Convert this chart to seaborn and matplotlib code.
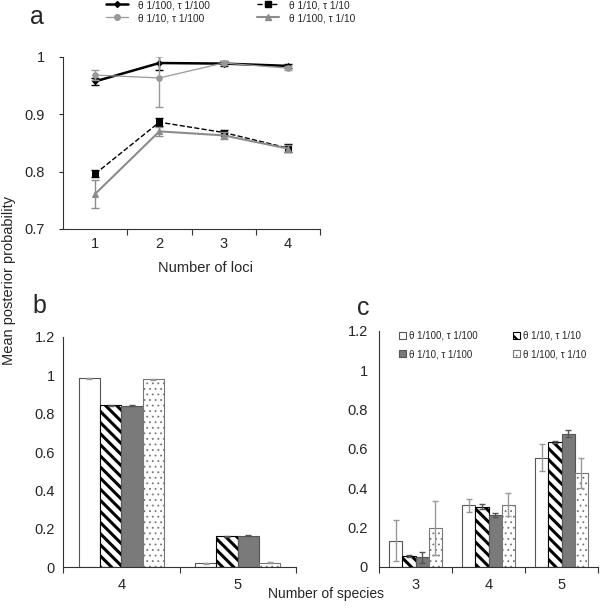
import numpy as np
import pandas as pd
import matplotlib
matplotlib.use("Agg")
import matplotlib.pyplot as plt
import seaborn as sns
from matplotlib.lines import Line2D
from matplotlib.patches import Patch

# ---------------- data ----------------
loci = [1, 2, 3, 4]
scen_labels = ["θ 1/100, τ 1/100", "θ 1/10, τ 1/10", "θ 1/10, τ 1/100", "θ 1/100, τ 1/10"]

a_t100_t100 = [0.957, 0.989, 0.988, 0.984]
a_t100_t100_err = [0.006, 0.012, 0.004, 0.004]
a_t10_t10 = [0.796, 0.886, 0.868, 0.841]
a_t10_t10_err = [0.006, 0.007, 0.004, 0.007]
a_t10_t100 = [0.968, 0.963, 0.989, 0.980]
a_t10_t100_err = [0.008, 0.050, 0.004, 0.004]
a_t100_t10 = [0.761, 0.870, 0.863, 0.840]
a_t100_t10_err = [0.025, 0.008, 0.006, 0.006]

b_species = ["4", "5"]
b_vals = {
    "θ 1/100, τ 1/100": [0.983, 0.021],
    "θ 1/10, τ 1/10": [0.843, 0.161],
    "θ 1/10, τ 1/100": [0.841, 0.165],
    "θ 1/100, τ 1/10": [0.979, 0.023],
}
b_errs = {
    "θ 1/100, τ 1/100": [0.002, 0.002],
    "θ 1/10, τ 1/10": [0.002, 0.002],
    "θ 1/10, τ 1/100": [0.002, 0.002],
    "θ 1/100, τ 1/10": [0.002, 0.002],
}

c_species = ["3", "4", "5"]
c_vals = {
    "θ 1/100, τ 1/100": [0.132, 0.312, 0.555],
    "θ 1/10, τ 1/10": [0.055, 0.305, 0.634],
    "θ 1/10, τ 1/100": [0.047, 0.263, 0.676],
    "θ 1/100, τ 1/10": [0.198, 0.316, 0.476],
}
c_errs = {
    "θ 1/100, τ 1/100": [0.105, 0.034, 0.070],
    "θ 1/10, τ 1/10": [0.007, 0.013, 0.007],
    "θ 1/10, τ 1/100": [0.028, 0.009, 0.019],
    "θ 1/100, τ 1/10": [0.137, 0.057, 0.078],
}

# ---------------- style ----------------
sns.set_theme(style="ticks")
plt.rcParams["font.family"] = ["Liberation Sans", "DejaVu Sans"]
plt.rcParams["hatch.linewidth"] = 0.8
plt.rcParams["axes.linewidth"] = 0.8
plt.rcParams["axes.edgecolor"] = "#333333"

fig = plt.figure(figsize=(6.0, 6.1), dpi=100)
W, H = 600.0, 610.0

def ax_rect(x0, x1, ytop, ybot):
    return [x0 / W, 1 - ybot / H, (x1 - x0) / W, (ybot - ytop) / H]

def set_hlw(p, lw):
    if hasattr(p, "set_hatch_linewidth"):
        p.set_hatch_linewidth(lw)
    else:
        p._hatch_linewidth = lw

# ---------------- panel a ----------------
axa = fig.add_axes(ax_rect(63, 320, 56.7, 229))
series_a = [
    (a_t100_t100, a_t100_t100_err, scen_labels[0], "black", "-", "D", 1.8, 3.0),
    (a_t10_t100, a_t10_t100_err, scen_labels[2], "#999999", "-", "o", 0.9, 4.0),
    (a_t10_t10, a_t10_t10_err, scen_labels[1], "black", "--", "s", 1.0, 4.0),
    (a_t100_t10, a_t100_t10_err, scen_labels[3], "#8c8c8c", "-", "^", 1.5, 4.0),
]
handles_a = []
for vals, errs, lab, col, ls, mk, lw, ms in series_a:
    df = pd.DataFrame({"loci": loci, "pp": vals})
    sns.lineplot(data=df, x="loci", y="pp", ax=axa, color=col, linestyle=ls,
                 marker=mk, markersize=ms, markeredgecolor=col, linewidth=lw,
                 errorbar=None, legend=False)
    axa.errorbar(loci, vals, yerr=errs, fmt="none", ecolor=col, elinewidth=1.0,
                 capsize=3, capthick=1.0)
    handles_a.append(Line2D([0], [0], color=col, linestyle=ls, marker=mk,
                            markersize=ms, linewidth=lw, label=lab))
axa.set_xlim(0.5, 4.5)
axa.set_ylim(0.7, 1.0)
axa.set_yticks([0.7, 0.8, 0.9, 1.0])
axa.set_yticklabels(["0.7", "0.8", "0.9", "1"])
axa.set_xticks(loci)
axa.set_xticks([1.5, 2.5, 3.5, 4.5], minor=True)
axa.tick_params(axis="x", which="major", length=0, labelsize=10.5, pad=6)
axa.tick_params(axis="x", which="minor", length=4, width=0.8, direction="out", color="#333333")
axa.tick_params(axis="y", length=3, width=0.8, labelsize=10.5, pad=10)
axa.set_xlabel("")
axa.set_ylabel("")
sns.despine(ax=axa)
fig.text(206 / W, 1 - 268 / H, "Number of loci", fontsize=10.5, ha="center", va="center")
fig.legend(handles=[handles_a[0], handles_a[1], handles_a[2], handles_a[3]],
           loc="upper left", bbox_to_anchor=(106 / W, 1 - 0 / H), ncol=2,
           frameon=False, fontsize=7.3, handlelength=2.2, handletextpad=1.0,
           columnspacing=4.6, labelspacing=0.3, borderaxespad=0, borderpad=0)

fig.text(37 / W, 1 - 17 / H, "a", fontsize=18, ha="center", va="center")

# ---------------- bar helpers ----------------
face = {scen_labels[0]: "white", scen_labels[1]: "white",
        scen_labels[2]: "#7a7a7a", scen_labels[3]: "white"}
hatch = {scen_labels[0]: None, scen_labels[1]: "\\\\\\", scen_labels[2]: None,
         scen_labels[3]: "..."}
hatch_lw = {scen_labels[1]: 2.2, scen_labels[3]: 0.6}
edge = {scen_labels[0]: "#555555", scen_labels[1]: "black",
        scen_labels[2]: "#555555", scen_labels[3]: "#777777"}
ecol = {scen_labels[0]: "#999999", scen_labels[1]: "#555555",
        scen_labels[2]: "#555555", scen_labels[3]: "#999999"}

def bar_panel(ax, species, vals, errs, ypad):
    rows = []
    for s in scen_labels:
        for sp, v in zip(species, vals[s]):
            rows.append({"species": sp, "scenario": s, "pp": v})
    df = pd.DataFrame(rows)
    sns.barplot(data=df, x="species", y="pp", hue="scenario", hue_order=scen_labels,
                order=species, ax=ax, width=0.73, errorbar=None, legend=False,
                saturation=1, gap=0)
    n = len(species)
    for i, s in enumerate(scen_labels):
        bars = ax.patches[i * n:(i + 1) * n]
        xs = []
        for p in bars:
            p.set_facecolor(face[s])
            p.set_edgecolor(edge[s])
            p.set_linewidth(0.8)
            if hatch[s]:
                p.set_hatch(hatch[s])
                set_hlw(p, hatch_lw[s])
            xs.append(p.get_x() + p.get_width() / 2)
        ax.errorbar(xs, vals[s], yerr=errs[s], fmt="none", ecolor=ecol[s],
                    elinewidth=1.0, capsize=2.5, capthick=1.0, zorder=5)
    ax.set_xlim(-0.5, n - 0.5)
    ax.set_ylim(0, 1.2)
    ax.set_yticks([0, 0.2, 0.4, 0.6, 0.8, 1.0, 1.2])
    ax.set_yticklabels(["0", "0.2", "0.4", "0.6", "0.8", "1", "1.2"])
    ax.set_xticks(range(n))
    ax.set_xticklabels(species)
    ax.set_xticks([k + 0.5 for k in range(-1, n)], minor=True)
    ax.tick_params(axis="x", which="major", length=0, labelsize=10.5, pad=8)
    ax.tick_params(axis="x", which="minor", length=4, width=0.8, direction="out", color="#333333")
    ax.tick_params(axis="y", length=0, labelsize=10.5, pad=ypad)
    ax.set_xlabel("")
    ax.set_ylabel("")
    sns.despine(ax=ax)

# ---------------- panel b ----------------
axb = fig.add_axes(ax_rect(63, 296, 336.7, 567.3))
bar_panel(axb, b_species, b_vals, b_errs, 6)
fig.text(39 / W, 1 - 306 / H, "b", fontsize=18, ha="center", va="center")

# ---------------- panel c ----------------
axc = fig.add_axes(ax_rect(379, 598, 330.7, 566.7))
bar_panel(axc, c_species, c_vals, c_errs, 8)
fig.text(363 / W, 1 - 308 / H, "c", fontsize=18, ha="center", va="center")

handles_c = []
for s in [scen_labels[0], scen_labels[2], scen_labels[1], scen_labels[3]]:
    hp = Patch(facecolor=face[s], edgecolor=edge[s], hatch=hatch[s],
               linewidth=0.8, label=s)
    handles_c.append(hp)
leg = axc.legend(handles=handles_c, loc="upper left", bbox_to_anchor=(399 / W, 1 - 331 / H),
                 bbox_transform=fig.transFigure, ncol=2, frameon=False, fontsize=7,
                 handlelength=0.75, handleheight=0.75, handletextpad=0.3,
                 columnspacing=3.6, labelspacing=0.85, borderaxespad=0, borderpad=0)
for p in leg.get_patches():
    h = p.get_hatch()
    if h:
        set_hlw(p, 1.5 if "\\" in h else 0.5)

# shared labels
fig.text(9 / W, 1 - 280 / H, "Mean posterior probability", rotation=90,
         fontsize=10.5, ha="center", va="center")
fig.text(326 / W, 1 - 594 / H, "Number of species", fontsize=10,
         ha="center", va="center")

fig.savefig("out.png", dpi=100, facecolor="white")
